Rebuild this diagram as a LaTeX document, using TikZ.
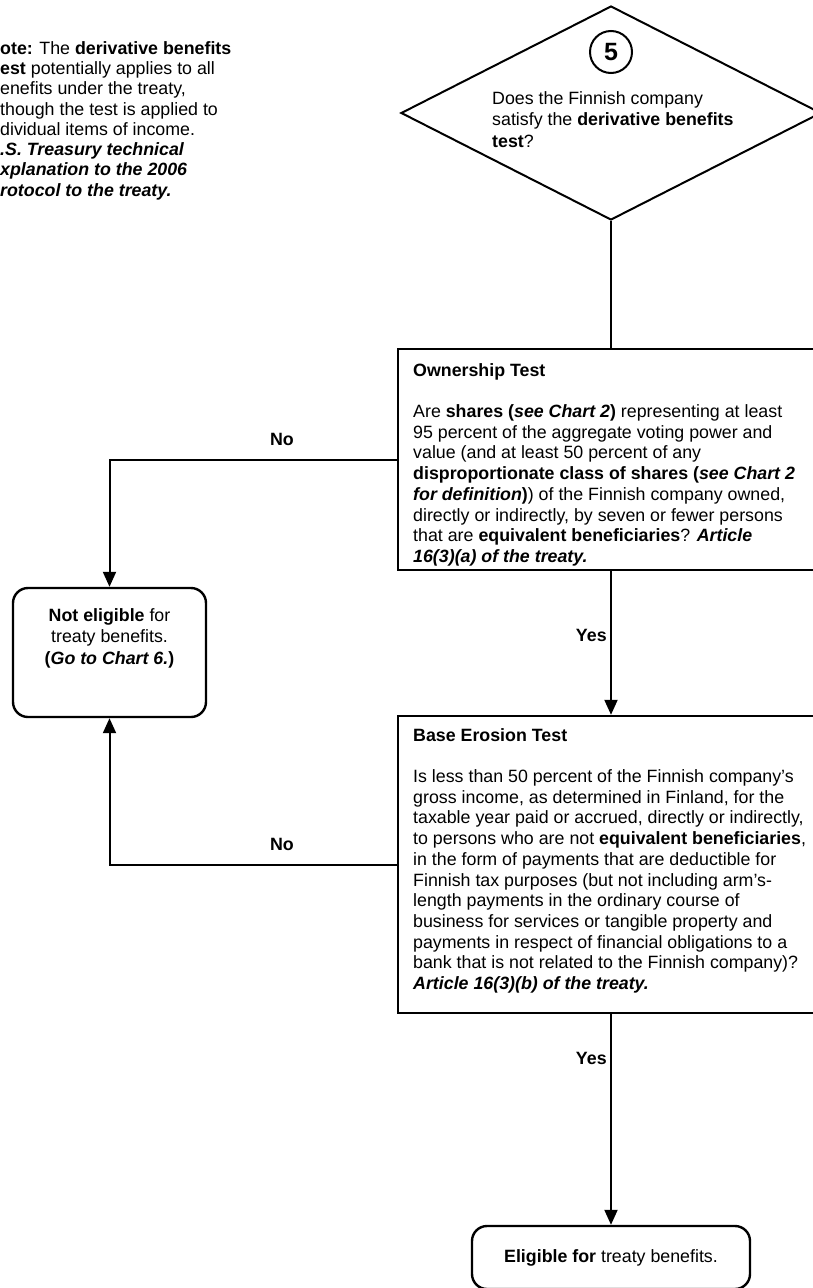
\documentclass[tikz,border=0pt]{standalone}
\usepackage{fontspec}
\setmainfont{Liberation Sans}
\usetikzlibrary{shapes.geometric,arrows.meta}

\begin{document}
\begin{tikzpicture}[x=1pt,y=-1pt,
  every node/.style={font=\fontsize{17.8}{20.7}\selectfont},
  testbox/.style={draw,line width=2.4pt,minimum width=426pt,inner sep=0pt},
  endbox/.style={draw,line width=2.4pt,rounded corners=15pt,inner sep=0pt},
  body/.style={align=left,anchor=north west,inner sep=0pt},
  arr/.style={line width=2pt,-{Triangle[length=15pt,width=13pt]}},
  lbl/.style={font=\fontsize{17.8}{20.7}\selectfont\bfseries}]
\useasboundingbox (0,0) rectangle (813,1288);
\clip (0,0) rectangle (813,1288);

% note, cut at the left edge
\node[body,font=\fontsize{17.8}{20.3}\selectfont] (note) at (0,41)
 {\textbf{ote:} The \textbf{derivative benefits}\\
  \textbf{est} potentially applies to all\\
  enefits under the treaty,\\
  though the test is applied to\\
  dividual items of income.\\
  \textbf{\textit{.S. Treasury technical}}\\
  \textbf{\textit{xplanation to the 2006}}\\
  \textbf{\textit{rotocol to the treaty.}}};

% question 5
\node[draw,diamond,line width=2pt,minimum width=420pt,minimum height=214pt,inner sep=0pt] (question) at (611,113) {};
\node[draw,circle,line width=2pt,minimum size=42pt,inner sep=0pt,font=\fontsize{25}{25}\selectfont\bfseries] (num) at (611,52) {5};
\node[body,font=\fontsize{17.8}{21.5}\selectfont] (questiontxt) at (492,91)
 {Does the Finnish company\\
  satisfy the \textbf{derivative benefits}\\
  \textbf{test}?};

% ownership test
\node[testbox,minimum height=221pt] (ownership) at (611,459.5) {};
\node[body] (ownershiptxt) at (413,363)
 {\textbf{Ownership Test}\\[20.7pt]
  Are \textbf{shares (\textit{see Chart 2})} representing at least\\
  95 percent of the aggregate voting power and\\
  value (and at least 50 percent of any\\
  \textbf{disproportionate class of shares (\textit{see Chart 2}}\\
  \textbf{\textit{for definition})}) of the Finnish company owned,\\
  directly or indirectly, by seven or fewer persons\\
  that are \textbf{equivalent beneficiaries}? \textbf{\textit{Article}}\\
  \textbf{\textit{16(3)(a) of the treaty.}}};

% base erosion test
\node[testbox,minimum height=297pt] (erosion) at (611,864.5) {};
\node[body] (erosiontxt) at (413,728)
 {\textbf{Base Erosion Test}\\[20.7pt]
  Is less than 50 percent of the Finnish company's\\
  gross income, as determined in Finland, for the\\
  taxable year paid or accrued, directly or indirectly,\\
  to persons who are not \textbf{equivalent beneficiaries},\\
  in the form of payments that are deductible for\\
  Finnish tax purposes (but not including arm's-\\
  length payments in the ordinary course of\\
  business for services or tangible property and\\
  payments in respect of financial obligations to a\\
  bank that is not related to the Finnish company)?\\
  \textbf{\textit{Article 16(3)(b) of the treaty.}}};

% outcomes
\node[endbox,minimum width=193pt,minimum height=129pt] (noteligible) at (109.5,652.5) {};
\node[align=center,anchor=north,inner sep=0pt,font=\fontsize{17.8}{21.5}\selectfont] (noteligibletxt) at (109.5,608)
 {\textbf{Not eligible} for\\
  treaty benefits.\\
  \textbf{(\textit{Go to Chart 6.})}};
\node[endbox,minimum width=278pt,minimum height=63pt] (eligible) at (611,1257.5) {\textbf{Eligible for} treaty benefits.};

\draw[line width=2pt] (question.south) -- (ownership.north);
\draw[arr] (ownership.south) -- node[lbl,left,pos=.45] (yes1) {Yes} (erosion.north);
\draw[arr] (erosion.south) -- node[lbl,left,pos=.21] (yes2) {Yes} (eligible.north);
\draw[arr] (ownership.west) -| node[lbl,pos=.2,anchor=base,yshift=14pt] (no1) {No} (noteligible.north);
\draw[arr] (erosion.west) -| node[lbl,pos=.2,anchor=base,yshift=14pt] (no2) {No} (noteligible.south);
\end{tikzpicture}
\end{document}
